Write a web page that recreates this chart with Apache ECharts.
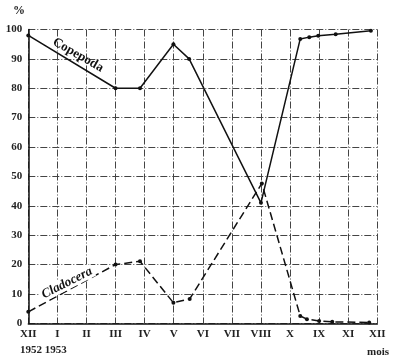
<!DOCTYPE html>
<html><head><meta charset="utf-8">
<script src="https://cdn.jsdelivr.net/npm/echarts@6/dist/echarts.min.js"></script>
<style>html,body{margin:0;padding:0;background:#fff}#c{width:400px;height:361px}</style>
</head><body><div id="c"></div>
<script>
const monthLabels = ['XII','I','II','III','IV','V','VI','VII','VIII','X','IX','XI','XII'];
const yTicks = [0,10,20,30,40,50,60,70,80,90,100];
const copepodaX = [0, 3, 3.84, 4.99, 5.53, 8.0, 9.35, 9.66, 9.97, 10.57, 11.78];
const copepodaY = [98, 80, 80, 95, 90, 41, 96.8, 97.4, 97.9, 98.4, 99.6];
const cladoceraX = [0, 3, 3.84, 4.99, 5.55, 8.03, 9.35, 9.58, 10.0, 10.45, 11.72];
const cladoceraY = [3.9, 20, 21.1, 7, 8.3, 47.6, 2.5, 1.4, 0.8, 0.5, 0.3];

const pair = (xs, ys) => xs.map((x, i) => [x, ys[i]]);
const serif = 'Liberation Serif';
const chart = echarts.init(document.getElementById('c'), null, {renderer: 'canvas'});
const gridStyle = {color: '#444', width: 1, type: [7, 2, 1, 2]};
chart.setOption({
  animation: false,
  backgroundColor: '#fff',
  grid: {left: 28.3, right: 22.7, top: 29.5, bottom: 37.7},
  xAxis: {
    type: 'value', min: 0, max: 12, interval: 1,
    axisLine: {show: true, lineStyle: {color: '#111', width: 1.5}},
    axisTick: {show: false},
    splitLine: {show: true, lineStyle: gridStyle},
    axisLabel: {
      margin: 5, color: '#222', fontFamily: serif, fontSize: 11, fontWeight: 'bold',
      formatter: v => monthLabels[Math.round(v)] ?? ''
    }
  },
  yAxis: {
    type: 'value', min: 0, max: 100, interval: 10,
    axisLine: {show: true, lineStyle: {color: '#111', width: 1.5}},
    axisTick: {show: false},
    splitLine: {show: true, lineStyle: gridStyle},
    axisLabel: {
      margin: 6, color: '#222', fontFamily: serif, fontSize: 11, fontWeight: 'bold',
      formatter: v => yTicks.includes(v) ? String(v) : ''
    }
  },
  series: [
    {
      name: 'Copepoda', type: 'line', data: pair(copepodaX, copepodaY),
      symbol: 'circle', symbolSize: 4, itemStyle: {color: '#111'},
      lineStyle: {color: '#111', width: 1.5, type: 'solid'}, z: 5
    },
    {
      name: 'Cladocera', type: 'line', data: pair(cladoceraX, cladoceraY),
      symbol: 'circle', symbolSize: 4, itemStyle: {color: '#111'},
      lineStyle: {color: '#111', width: 1.5, type: [8, 4]}, z: 5
    }
  ],
  graphic: [
    {type: 'text', x: 13, y: 5, style: {text: '%', font: 'bold 12px "Liberation Serif"', fill: '#222'}},
    {type: 'text', x: 20, y: 345, style: {text: '1952 1953', font: 'bold 11px "Liberation Serif"', fill: '#222'}},
    {type: 'text', x: 367, y: 347, style: {text: 'mois', font: 'bold 11px "Liberation Serif"', fill: '#222'}},
    {type: 'text', x: 78, y: 55, rotation: -0.52, z: 10,
      style: {text: 'Copepoda', font: 'bold 13px "Liberation Serif"', fill: '#111', align: 'center', verticalAlign: 'middle'}},
    {type: 'text', x: 67, y: 283, rotation: 0.47, z: 10,
      style: {text: 'Cladocera', font: 'italic bold 13px "Liberation Serif"', fill: '#111', align: 'center', verticalAlign: 'middle',
        backgroundColor: '#fff', padding: [0, 2]}}
  ]
});
</script></body></html>
